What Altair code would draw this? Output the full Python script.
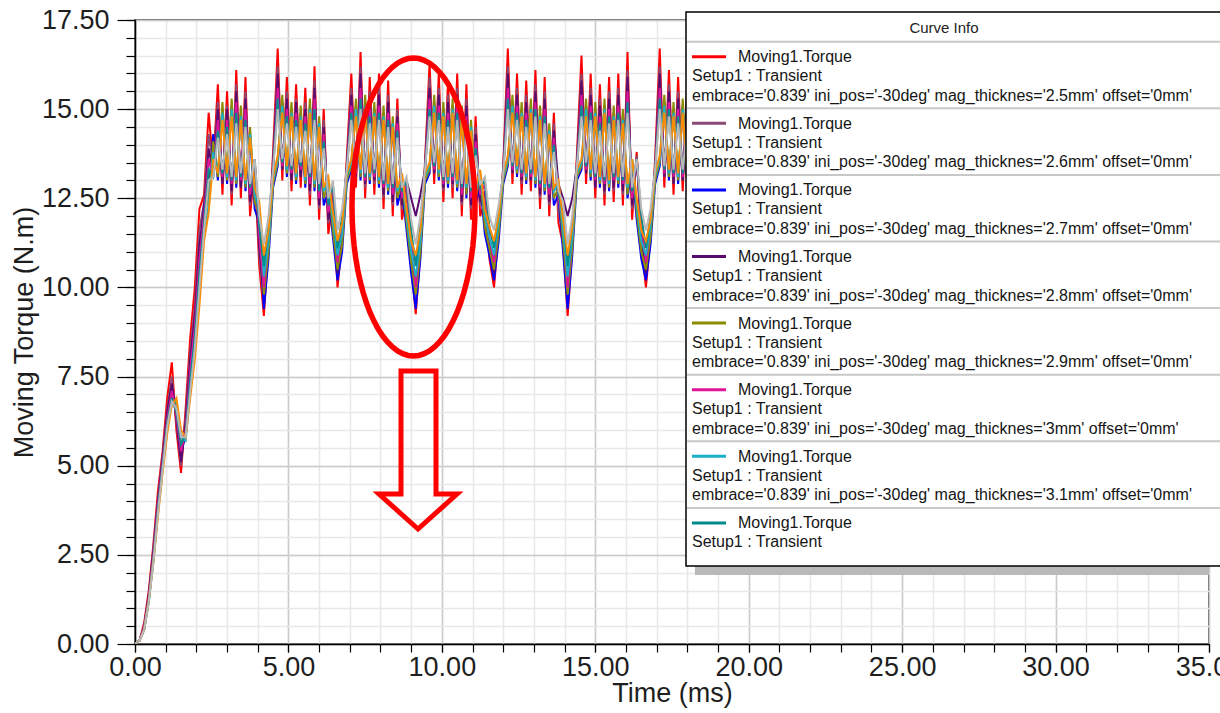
import math
import altair as alt
import pandas as pd

# ---------------- data ----------------
TIME_MS = [0.0,0.15,0.3,0.45,0.6,0.75,0.9,1.05,1.2,1.35,1.5,1.65,1.8,1.95,2.1,2.25,2.4,2.55,2.7,2.85,
           3.0,3.15,3.3,3.45,3.6,3.75,3.9,4.05,4.2,4.35,4.5,4.65,4.8,4.95,5.1,5.25,5.4,5.55,5.7,5.85,
           6.0,6.15,6.3,6.45,6.6,6.75,6.9,7.05,7.2,7.35,7.5,7.65,7.8,7.95,8.1,8.25,8.4,8.55,8.7,8.85,
           9.0,9.15,9.3,9.45,9.6,9.75,9.9,10.05,10.2,10.35,10.5,10.65,10.8,10.95,11.1,11.25,11.4,11.55,11.7,11.85,
           12.0,12.15,12.3,12.45,12.6,12.75,12.9,13.05,13.2,13.35,13.5,13.65,13.8,13.95,14.1,14.25,14.4,14.55,14.7,14.85,
           15.0,15.15,15.3,15.45,15.6,15.75,15.9,16.05,16.2,16.35,16.5,16.65,16.8,16.95,17.1,17.25,17.4,17.55,17.7,17.85,
           18.0,18.15,18.3,18.45,18.6]

TQ_2P5 = [0.0,0.1,0.6,1.5,2.8,4.3,5.4,6.9,7.9,6.0,
          4.8,6.6,8.6,10.0,12.2,12.6,14.9,13.4,15.7,12.6,
          15.5,12.3,16.1,12.5,15.9,12.0,13.4,10.6,9.2,11.2,
          13.8,16.7,13.0,15.9,12.7,15.7,12.8,15.6,12.3,16.2,
          11.9,15.0,11.5,12.4,10.0,11.3,13.6,16.0,12.8,16.6,
          12.5,15.9,12.6,16.0,12.2,15.8,12.0,15.3,11.9,12.6,
          10.6,9.25,11.0,13.5,16.3,12.9,16.0,12.4,15.8,12.5,
          16.0,12.0,15.7,11.9,14.8,12.0,12.4,10.8,10.0,11.6,
          13.4,16.7,12.9,16.0,12.6,15.8,12.7,16.1,12.2,15.9,
          12.0,14.9,11.8,11.2,9.2,11.1,13.7,16.5,12.9,16.0,
          12.5,15.7,12.3,15.9,12.4,16.0,12.3,16.6,11.9,13.8,
          11.2,10.0,11.4,13.6,16.7,12.8,16.1,12.6,15.9,12.7,
          15.8,12.4,16.0,12.3,15.8]

TQ_2P6 = [0.0,0.1,0.5,1.4,2.7,4.1,5.3,6.6,7.5,6.2,
          5.0,6.4,8.2,9.5,11.6,12.4,14.3,13.4,15.2,12.9,
          15.1,12.6,15.7,12.8,15.5,12.3,13.6,10.9,9.5,11.4,
          13.6,16.2,13.3,15.5,13.0,15.3,13.1,15.2,12.6,15.8,
          12.2,14.7,11.8,12.6,10.3,11.5,13.4,15.6,13.1,16.2,
          12.8,15.5,12.9,15.6,12.5,15.4,12.3,15.0,12.2,12.8,
          10.9,9.6,11.3,13.4,15.9,13.2,15.6,12.7,15.4,12.8,
          15.6,12.3,15.3,12.2,14.5,12.3,12.6,11.1,10.3,11.8,
          13.3,16.2,13.2,15.6,12.9,15.4,13.0,15.7,12.5,15.5,
          12.3,14.6,12.1,11.5,9.5,11.3,13.5,16.0,13.2,15.6,
          12.8,15.3,12.6,15.5,12.7,15.6,12.6,16.1,12.2,13.7,
          11.5,10.3,11.6,13.4,16.2,13.1,15.7,12.9,15.5,13.0,
          15.4,12.7,15.6,12.6,15.4]

TQ_2P7 = [0.0,0.1,0.5,1.3,2.5,3.9,5.1,6.2,7.1,6.6,
          5.3,5.9,7.6,8.8,10.6,12.3,12.6,14.3,13.0,15.0,
          12.9,15.1,12.8,14.9,12.7,14.3,12.2,11.8,9.4,10.8,
          12.8,13.4,15.2,13.1,15.0,12.9,14.9,12.8,15.1,12.7,
          14.6,12.3,12.7,11.4,10.2,11.0,12.9,13.3,15.1,13.0,
          15.2,12.9,15.0,12.8,14.9,12.6,14.6,12.3,12.8,11.6,
          10.4,9.4,10.8,12.9,13.2,15.2,13.0,15.0,12.8,15.1,
          12.7,14.9,12.5,14.5,12.3,12.9,11.5,10.9,10.2,11.3,
          12.9,13.4,15.2,13.1,15.0,12.9,15.1,12.8,14.9,12.6,
          14.4,12.3,12.6,11.0,9.4,10.9,13.0,13.3,15.1,13.0,
          15.0,12.8,15.1,12.7,14.9,12.8,14.8,12.5,13.4,11.9,
          10.8,10.2,11.2,12.9,13.4,15.2,13.0,15.0,12.9,15.1,
          12.8,14.9,12.7,15.0,12.8]

TQ_2P8 = [0.0,0.1,0.5,1.4,2.6,4.0,5.2,6.5,7.3,6.3,
          5.1,6.2,8.0,9.2,11.2,12.2,13.9,13.2,15.0,12.9,
          15.0,12.7,15.5,12.8,15.3,12.4,13.5,11.1,9.8,11.4,
          13.4,16.0,13.3,15.3,13.0,15.2,13.1,15.0,12.7,15.6,
          12.3,14.5,11.9,12.7,10.4,11.6,13.3,15.4,13.1,16.0,
          12.9,15.3,13.0,15.4,12.6,15.2,12.4,14.8,12.3,13.0,
          12.5,12.0,12.6,13.3,15.6,13.2,15.4,12.8,15.2,12.9,
          15.4,12.4,15.1,12.3,14.3,12.4,12.7,11.2,10.4,11.8,
          13.2,16.0,13.2,15.4,13.0,15.2,13.0,15.5,12.6,15.3,
          12.4,14.4,12.9,12.5,12.0,12.5,13.4,15.8,13.2,15.4,
          12.8,15.1,12.7,15.3,12.8,15.4,12.7,15.9,12.3,13.6,
          11.6,10.4,11.6,13.3,16.0,13.1,15.5,12.9,15.3,13.0,
          15.2,12.8,15.4,12.7,15.2]

TQ_2P9 = [0.0,0.1,0.5,1.3,2.4,3.8,5.0,6.1,6.9,6.7,
          5.6,5.8,7.3,8.5,10.2,12.0,12.5,14.1,13.1,15.2,
          13.0,15.3,12.9,15.1,12.8,14.5,12.4,12.0,9.8,11.0,
          12.9,13.5,15.4,13.2,15.2,13.0,15.1,12.9,15.3,12.8,
          14.8,12.5,12.9,11.6,10.5,11.2,13.0,13.4,15.3,13.1,
          15.4,13.0,15.2,12.9,15.1,12.7,14.8,12.5,13.0,11.8,
          10.7,9.8,11.0,13.0,13.3,15.4,13.1,15.2,12.9,15.3,
          12.8,15.1,12.6,14.7,12.5,13.1,11.7,11.1,10.5,11.5,
          13.0,13.5,15.4,13.2,15.2,13.0,15.3,12.9,15.1,12.7,
          14.6,12.5,12.8,11.3,9.8,11.1,13.1,13.4,15.3,13.1,
          15.2,12.9,15.3,12.8,15.1,12.9,15.0,12.6,13.6,12.1,
          11.0,10.5,11.4,13.0,13.5,15.4,13.1,15.2,13.0,15.3,
          12.9,15.1,12.8,15.2,12.9]

TQ_3P0 = [0.0,0.1,0.5,1.3,2.5,3.9,5.1,6.3,7.1,6.4,
          5.4,6.0,7.7,8.9,10.8,12.0,13.6,13.1,14.7,13.1,
          14.7,12.9,15.2,13.0,15.0,12.6,13.6,11.4,10.0,11.6,
          13.3,15.6,13.4,15.0,13.2,14.9,13.3,14.8,12.9,15.3,
          12.5,14.3,12.1,12.8,10.7,11.8,13.3,15.1,13.2,15.6,
          13.0,15.0,13.1,15.1,12.8,14.9,12.6,14.6,12.5,12.9,
          11.3,10.0,11.6,13.3,15.3,13.3,15.1,12.9,14.9,13.0,
          15.1,12.6,14.8,12.5,14.1,12.6,12.9,11.4,10.7,12.0,
          13.2,15.6,13.3,15.1,13.1,14.9,13.1,15.2,12.8,15.0,
          12.6,14.2,12.5,11.9,10.0,11.6,13.4,15.4,13.3,15.1,
          13.0,14.8,12.9,15.0,13.0,15.1,12.9,15.5,12.5,13.6,
          11.8,10.7,11.8,13.3,15.6,13.2,15.2,13.1,15.0,13.1,
          14.9,13.0,15.1,12.9,14.9]

TQ_3P1 = [0.0,0.1,0.4,1.2,2.3,3.7,4.9,6.0,6.8,6.8,
          5.8,5.7,7.1,8.2,9.8,11.6,12.3,13.8,13.2,14.9,
          13.1,15.0,13.0,14.8,12.9,14.3,12.6,12.2,10.3,11.3,
          13.0,13.6,15.1,13.3,14.9,13.1,14.8,13.0,15.0,12.9,
          14.6,12.7,13.0,11.9,10.9,11.5,13.1,13.5,15.0,13.2,
          15.1,13.1,14.9,13.0,14.8,12.8,14.6,12.7,13.1,12.0,
          11.0,10.3,11.3,13.1,13.4,15.1,13.2,14.9,13.0,15.0,
          12.9,14.8,12.8,14.5,12.7,13.2,12.0,11.4,10.9,11.8,
          13.1,13.6,15.1,13.3,14.9,13.1,15.0,13.0,14.8,12.8,
          14.4,12.7,12.9,11.6,10.3,11.4,13.2,13.5,15.0,13.2,
          14.9,13.0,15.0,12.9,14.8,13.0,14.7,12.8,13.6,12.3,
          11.3,10.9,11.7,13.1,13.6,15.1,13.2,14.9,13.1,15.0,
          13.0,14.8,12.9,14.9,13.0]

TQ_3P2 = [0.0,0.1,0.4,1.2,2.4,3.8,5.0,6.2,6.9,6.5,
          5.6,5.9,7.4,8.6,10.4,11.8,13.3,13.1,14.4,13.2,
          14.5,13.0,14.9,13.1,14.7,12.8,13.6,11.7,10.6,11.8,
          13.3,15.3,13.5,14.8,13.3,14.7,13.4,14.6,13.1,15.0,
          12.7,14.1,12.3,12.9,11.1,12.0,13.3,14.9,13.3,15.3,
          13.1,14.8,13.2,14.9,12.9,14.7,12.8,14.4,12.7,13.0,
          11.6,10.6,11.8,13.3,15.0,13.4,14.9,13.0,14.7,13.1,
          14.9,12.8,14.6,12.7,13.9,12.8,13.0,11.7,11.1,12.1,
          13.2,15.3,13.4,14.9,13.2,14.7,13.2,15.0,12.9,14.8,
          12.8,14.0,12.6,12.1,10.6,11.8,13.4,15.1,13.4,14.9,
          13.1,14.6,13.0,14.8,13.1,14.9,13.0,15.2,12.7,13.6,
          12.0,11.1,12.0,13.3,15.3,13.3,15.0,13.2,14.8,13.2,
          14.7,13.1,14.9,13.0,14.7]

TQ_3P3 = [0.0,0.1,0.4,1.2,2.3,3.6,4.8,5.9,6.7,6.9,
          6.0,5.8,6.9,8.0,9.5,11.3,12.1,13.6,13.2,14.7,
          13.2,14.8,13.1,14.7,13.0,14.2,12.8,12.4,10.9,11.6,
          13.1,13.7,14.9,13.4,14.8,13.2,14.7,13.1,14.9,13.0,
          14.5,12.8,13.1,12.1,11.3,11.8,13.2,13.6,14.8,13.3,
          14.9,13.2,14.8,13.1,14.7,12.9,14.5,12.8,13.2,12.2,
          11.3,10.9,11.6,13.2,13.5,14.9,13.3,14.8,13.1,14.9,
          13.0,14.7,12.9,14.4,12.8,13.3,12.2,11.7,11.3,12.0,
          13.2,13.7,14.9,13.4,14.8,13.2,14.9,13.1,14.7,12.9,
          14.3,12.8,13.0,11.9,10.9,11.7,13.3,13.6,14.8,13.3,
          14.8,13.1,14.9,13.0,14.7,13.1,14.6,12.9,13.6,12.5,
          11.6,11.3,11.9,13.2,13.7,14.9,13.3,14.8,13.2,14.9,
          13.1,14.7,13.0,14.8,13.1]

TQ_3P4 = [0.0,0.1,0.4,1.2,2.3,3.7,4.9,6.1,6.8,6.6,
          5.8,5.8,7.1,8.3,10.0,11.6,13.0,13.1,14.2,13.3,
          14.3,13.1,14.6,13.2,14.5,12.9,13.6,12.0,11.2,12.0,
          13.3,15.0,13.6,14.6,13.4,14.5,13.5,14.4,13.2,14.7,
          12.9,13.9,12.5,13.0,11.6,12.2,13.3,14.7,13.4,15.0,
          13.2,14.6,13.3,14.7,13.0,14.5,12.9,14.2,12.8,13.1,
          11.9,11.2,12.0,13.3,14.8,13.5,14.7,13.1,14.5,13.2,
          14.7,12.9,14.4,12.8,13.7,12.9,13.1,12.0,11.6,12.3,
          13.2,15.0,13.5,14.7,13.3,14.5,13.3,14.8,13.0,14.6,
          12.9,13.8,12.7,12.4,11.2,12.0,13.4,14.8,13.5,14.7,
          13.2,14.4,13.1,14.6,13.2,14.7,13.1,14.9,12.8,13.6,
          12.2,11.6,12.2,13.3,15.0,13.4,14.8,13.3,14.6,13.3,
          14.5,13.2,14.7,13.1,14.5]

CURVE_KEYS = ["2.5mm", "2.6mm", "2.7mm", "2.8mm", "2.9mm", "3mm", "3.1mm", "3.2mm", "3.3mm", "3.4mm"]
CURVE_COLORS = ["#FF0000", "#8B4A73", "#0000FF", "#5A0A6E", "#8C8C00",
                "#E0149B", "#1AB0C8", "#008C8C", "#FF8C00", "#B8B8B8"]
SERIES = [TQ_2P5, TQ_2P6, TQ_2P7, TQ_2P8, TQ_2P9, TQ_3P0, TQ_3P1, TQ_3P2, TQ_3P3, TQ_3P4]

X_MAJOR = [0, 5, 10, 15, 20, 25, 30, 35]
X_MINOR = [0, 1, 2, 3, 4, 5, 6, 7, 8, 9, 10, 11, 12, 13, 14, 15, 16, 17, 18, 19, 20,
           21, 22, 23, 24, 25, 26, 27, 28, 29, 30, 31, 32, 33, 34, 35]
Y_MAJOR = [0, 2.5, 5, 7.5, 10, 12.5, 15, 17.5]
Y_MINOR = [0, 0.5, 1, 1.5, 2, 2.5, 3, 3.5, 4, 4.5, 5, 5.5, 6, 6.5, 7, 7.5, 8, 8.5, 9, 9.5,
           10, 10.5, 11, 11.5, 12, 12.5, 13, 13.5, 14, 14.5, 15, 15.5, 16, 16.5, 17, 17.5]

LEGEND_HEAD = "Curve Info"
LEGEND_CURVE = "Moving1.Torque"
LEGEND_SETUP = "Setup1 : Transient"
LEGEND_PARAMS = [
    "embrace='0.839' ini_pos='-30deg' mag_thicknes='2.5mm' offset='0mm'",
    "embrace='0.839' ini_pos='-30deg' mag_thicknes='2.6mm' offset='0mm'",
    "embrace='0.839' ini_pos='-30deg' mag_thicknes='2.7mm' offset='0mm'",
    "embrace='0.839' ini_pos='-30deg' mag_thicknes='2.8mm' offset='0mm'",
    "embrace='0.839' ini_pos='-30deg' mag_thicknes='2.9mm' offset='0mm'",
    "embrace='0.839' ini_pos='-30deg' mag_thicknes='3mm' offset='0mm'",
    "embrace='0.839' ini_pos='-30deg' mag_thicknes='3.1mm' offset='0mm'",
    "",
]
LEGEND_COLORS = CURVE_COLORS[:8]

# ---------------- layout (pixels) ----------------
PAD_L, PAD_T, W, H = 135, 20, 1074, 624
FONT = "Liberation Sans"


def vx(px):
    return px - PAD_L


def vy(py):
    return py - PAD_T


frames = []
for key, vals in zip(CURVE_KEYS, SERIES):
    assert len(vals) == len(TIME_MS), (key, len(vals))
    frames.append(pd.DataFrame({"t": TIME_MS, "v": vals, "curve": key}))
curves_df = pd.concat(frames, ignore_index=True)

xscale = alt.Scale(domain=[0, 35], nice=False, zero=False)
yscale = alt.Scale(domain=[0, 17.5], nice=False, zero=False)
range_df = pd.DataFrame({"t": [0, 35], "v": [0, 17.5]})

minor = alt.Chart(range_df).mark_point(opacity=0).encode(
    x=alt.X("t:Q", scale=xscale, title=None,
            axis=alt.Axis(orient="bottom", values=X_MINOR, labels=False, ticks=True, tickSize=8,
                          tickColor="#000000", tickWidth=1.2, domain=False, grid=True,
                          gridColor="#E8E8E8", gridWidth=1.5)),
    y=alt.Y("v:Q", scale=yscale, title=None,
            axis=alt.Axis(orient="left", values=Y_MINOR, labels=False, ticks=True, tickSize=9,
                          tickColor="#000000", tickWidth=1.2, domain=False, grid=True,
                          gridColor="#E8E8E8", gridWidth=1.5)),
)

major = alt.Chart(range_df).mark_point(opacity=0).encode(
    x=alt.X("t:Q", scale=xscale, title="Time (ms)",
            axis=alt.Axis(orient="bottom", values=X_MAJOR, format=".2f", labelFlush=False,
                          labelOverlap=False, labelBound=False, tickSize=8, tickColor="#000000",
                          tickWidth=1.2, domain=True, domainColor="#000000", domainWidth=1.5,
                          grid=True, gridColor="#CBCBCB", gridWidth=1.5,
                          labelFont=FONT, labelFontSize=27, labelColor="#1E1E1E", labelPadding=2,
                          titleFont=FONT, titleFontSize=27, titleFontWeight="normal",
                          titleColor="#1E1E1E", titlePadding=0)),
    y=alt.Y("v:Q", scale=yscale, title="Moving Torque (N.m)",
            axis=alt.Axis(orient="left", values=Y_MAJOR, format=".2f", labelFlush=False,
                          labelOverlap=False, labelBound=False, tickSize=18, tickColor="#000000",
                          tickWidth=1.2, domain=True, domainColor="#000000", domainWidth=1.5,
                          grid=True, gridColor="#CBCBCB", gridWidth=1.5,
                          labelFont=FONT, labelFontSize=27, labelColor="#1E1E1E", labelPadding=8,
                          titleFont=FONT, titleFontSize=27, titleFontWeight="normal",
                          titleColor="#1E1E1E", titlePadding=3)),
)

lines = alt.Chart(curves_df).mark_line(strokeWidth=2.0, clip=True).encode(
    x=alt.X("t:Q", scale=xscale, axis=None),
    y=alt.Y("v:Q", scale=yscale, axis=None),
    color=alt.Color("curve:N", scale=alt.Scale(domain=CURVE_KEYS, range=CURVE_COLORS), legend=None),
)

# ---------------- red annotation (ellipse + hollow arrow) ----------------
ell_rows = []
for k in range(0, 73):
    a = math.radians(k * 5)
    ell_rows.append({"x": vx(413.5 + 61.5 * math.cos(a)), "y": vy(207 + 149 * math.sin(a)), "o": k})
ellipse = alt.Chart(pd.DataFrame(ell_rows)).mark_line(color="#FF0000", strokeWidth=5.5).encode(
    x=alt.X("x:Q", scale=None, axis=None), y=alt.Y("y:Q", scale=None, axis=None), order="o:Q")

ARROW_PTS = [(401, 371), (436, 371), (436, 494), (457, 494), (418, 529), (379, 494), (401, 494), (401, 371)]
arrow_df = pd.DataFrame([{"x": vx(px), "y": vy(py), "o": i} for i, (px, py) in enumerate(ARROW_PTS)])
arrow = alt.Chart(arrow_df).mark_line(color="#FF0000", strokeWidth=5, strokeJoin="miter",
                                      strokeCap="square").encode(
    x=alt.X("x:Q", scale=None, axis=None), y=alt.Y("y:Q", scale=None, axis=None), order="o:Q")

# ---------------- "Curve Info" box ----------------
BOX_L, BOX_T, BOX_B, BOX_R = 686, 12, 566, 1245
ROW0, ROW_H = 41.7, 66.6

shadow = alt.Chart(pd.DataFrame([{"x": vx(695), "x2": vx(1209), "y": vy(566), "y2": vy(575)}])).mark_rect(
    color="#B9B9B9").encode(
    x=alt.X("x:Q", scale=None, axis=None), x2="x2:Q",
    y=alt.Y("y:Q", scale=None, axis=None), y2="y2:Q")

box = alt.Chart(pd.DataFrame([{"x": vx(BOX_L), "x2": vx(BOX_R), "y": vy(BOX_T), "y2": vy(BOX_B)}])).mark_rect(
    fill="#FFFFFF", stroke="#000000", strokeWidth=1.5).encode(
    x=alt.X("x:Q", scale=None, axis=None), x2="x2:Q",
    y=alt.Y("y:Q", scale=None, axis=None), y2="y2:Q")

sep_df = pd.DataFrame([{"x": vx(BOX_L + 1), "x2": vx(1225), "y": vy(ROW0 + ROW_H * k)} for k in range(8)])
seps = alt.Chart(sep_df).mark_rule(color="#C8C8C8", strokeWidth=2).encode(
    x=alt.X("x:Q", scale=None, axis=None), x2="x2:Q", y=alt.Y("y:Q", scale=None, axis=None))

sym_df = pd.DataFrame([{"x": vx(692), "x2": vx(726), "y": vy(ROW0 + ROW_H * k + 15), "c": LEGEND_COLORS[k]}
                       for k in range(8)])
syms = alt.Chart(sym_df).mark_rule(strokeWidth=3).encode(
    x=alt.X("x:Q", scale=None, axis=None), x2="x2:Q", y=alt.Y("y:Q", scale=None, axis=None),
    color=alt.Color("c:N", scale=None, legend=None))

head = alt.Chart(pd.DataFrame([{"x": vx(944), "y": vy(28), "s": LEGEND_HEAD}])).mark_text(
    align="center", baseline="middle", font=FONT, fontSize=15, color="#222222").encode(
    x=alt.X("x:Q", scale=None, axis=None), y=alt.Y("y:Q", scale=None, axis=None), text="s:N")

txt_rows = []
for k in range(8):
    top = ROW0 + ROW_H * k
    txt_rows.append({"x": vx(738), "y": vy(top + 15.5), "s": LEGEND_CURVE})
    txt_rows.append({"x": vx(692), "y": vy(top + 34.5), "s": LEGEND_SETUP})
    if LEGEND_PARAMS[k]:
        txt_rows.append({"x": vx(692), "y": vy(top + 54), "s": LEGEND_PARAMS[k]})
texts = alt.Chart(pd.DataFrame(txt_rows)).mark_text(
    align="left", baseline="middle", font=FONT, fontSize=16, color="#151515").encode(
    x=alt.X("x:Q", scale=None, axis=None), y=alt.Y("y:Q", scale=None, axis=None), text="s:N")

chart = alt.layer(minor, major, lines, ellipse, arrow, shadow, box, seps, syms, head, texts).resolve_axis(
    x="independent", y="independent"
).properties(
    width=W, height=H,
    autosize=alt.AutoSizeParams(type="none"),
    padding={"left": PAD_L, "top": PAD_T, "right": 1220 - PAD_L - W, "bottom": 713 - PAD_T - H},
    background="#FFFFFF",
).configure(font=FONT).configure_view(stroke="#000000", strokeWidth=1.5)

chart.save("out.html", embed_options={"renderer": "svg", "actions": False})
